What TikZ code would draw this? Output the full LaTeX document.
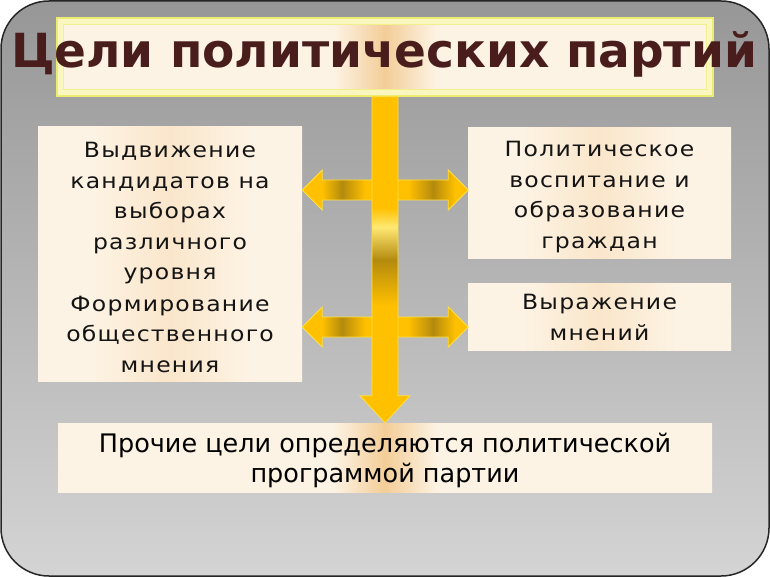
\documentclass[tikz,border=0pt]{standalone}
\usepackage{fontspec}
\setmainfont{DejaVu Sans}
\newfontfamily\boxfont[LetterSpace=6,FakeStretch=1.12]{DejaVu Sans}
\usetikzlibrary{positioning}

\definecolor{bgtop}{HTML}{979797}
\definecolor{bgbot}{HTML}{D4D4D4}
\definecolor{cream}{HTML}{FDF3E4}
\definecolor{peach}{HTML}{F3CD98}
\definecolor{softpeach}{HTML}{FAE6CB}
\definecolor{gold}{HTML}{FFC000}
\definecolor{darkgold}{HTML}{B48A0E}
\definecolor{paleyellow}{HTML}{FFE873}
\definecolor{goldedge}{HTML}{FFE040}
\definecolor{titleedge}{HTML}{ECEC70}
\definecolor{bevel}{HTML}{FAF6C0}
\definecolor{maroon}{HTML}{4A1D1D}
\definecolor{ink}{HTML}{141414}

\pgfdeclarehorizontalshading{goldbar}{100bp}{color(0bp)=(gold); color(31bp)=(gold);
  color(37bp)=(darkgold); color(44bp)=(gold); color(57bp)=(gold);
  color(64.5bp)=(darkgold); color(71bp)=(gold); color(100bp)=(gold)}
\pgfdeclareverticalshading{goldspine}{100bp}{color(0bp)=(gold); color(43bp)=(gold);
  color(50bp)=(darkgold); color(55bp)=(paleyellow); color(58bp)=(gold); color(100bp)=(gold)}
\pgfdeclarehorizontalshading{creamglow}{100bp}{color(0bp)=(cream); color(46bp)=(cream);
  color(50bp)=(peach); color(54bp)=(cream); color(100bp)=(cream)}
\pgfdeclarehorizontalshading{sideglow}{100bp}{color(0bp)=(cream); color(35bp)=(cream);
  color(50bp)=(softpeach); color(65bp)=(cream); color(100bp)=(cream)}

\begin{document}
\begin{tikzpicture}[x=1pt,y=-1pt,
    goalbox/.style={shade,shading=sideglow,inner sep=0pt,align=center,
      font=\boxfont\fontsize{21}{30.5}\selectfont,text=ink,text height=#1,text depth=0pt},
    goldarrow/.style={draw=goldedge,line width=0.8pt,line join=miter}]

  \useasboundingbox (0,0) rectangle (770,577);
  \shadedraw[top color=bgtop,bottom color=bgbot,draw=black!85,line width=1.5pt,
    rounded corners=48pt] (1,1) rectangle (769,576);

  % heading
  \node[minimum width=656,minimum height=78,fill=bevel,draw=titleedge,line width=1.5pt] (title) at (385,57) {};
  \shadedraw[shading=creamglow,draw=titleedge!80!white,line width=0.6pt]
    ([shift={(7,7)}]title.north west) rectangle ([shift={(-7,-7)}]title.south east);
  \node[font=\bfseries\fontsize{47}{56}\selectfont,text=maroon] (head) at (384,54) {Цели политических партий};

  % goals
  \node[goalbox=82pt,minimum width=264,minimum height=100] (opin) at (170,331)
    {Формирование\\общественного\\мнения};
  \node[goalbox=152pt,minimum width=264,minimum height=154,above=0pt of opin] (cand)
    {Выдвижение\\кандидатов на\\выборах\\различного\\уровня};
  \node[goalbox=110pt,minimum width=263,minimum height=130] (civic) at (599.5,193)
    {Политическое\\воспитание и\\образование\\граждан};
  \node[goalbox=47pt,minimum width=263,minimum height=67,below=25pt of civic] (expr)
    {Выражение\\мнений};
  \node[shade,shading=creamglow,minimum width=654,minimum height=69,inner sep=0pt,align=center,
    font=\fontsize{25.5}{30}\selectfont,text=black,text height=49pt,text depth=0pt] (prog) at (385,457.5)
    {Прочие цели определяются политической\\программой партии};

  % arrows
  \coordinate (spine) at (title.south);
  \coordinate (l1) at (cand.east |- 0,190);
  \coordinate (l2) at (opin.east |- 0,327);
  \foreach \p in {l1,l2}
    \shadedraw[goldarrow,shading=goldbar] (\p) -- ++(20,-20) -- ++(0,10) -- ++(126,0) -- ++(0,-10)
      -- ++(20,20) -- ++(-20,20) -- ++(0,-10) -- ++(-126,0) -- ++(0,10) -- cycle;
  \shadedraw[goldarrow,shading=goldspine] ([xshift=-13pt]spine) -- ++(0,299) -- ++(-12,0)
    -- ++(25,27) -- ++(25,-27) -- ++(-12,0) -- ++(0,-299) -- cycle;
\end{tikzpicture}
\end{document}
